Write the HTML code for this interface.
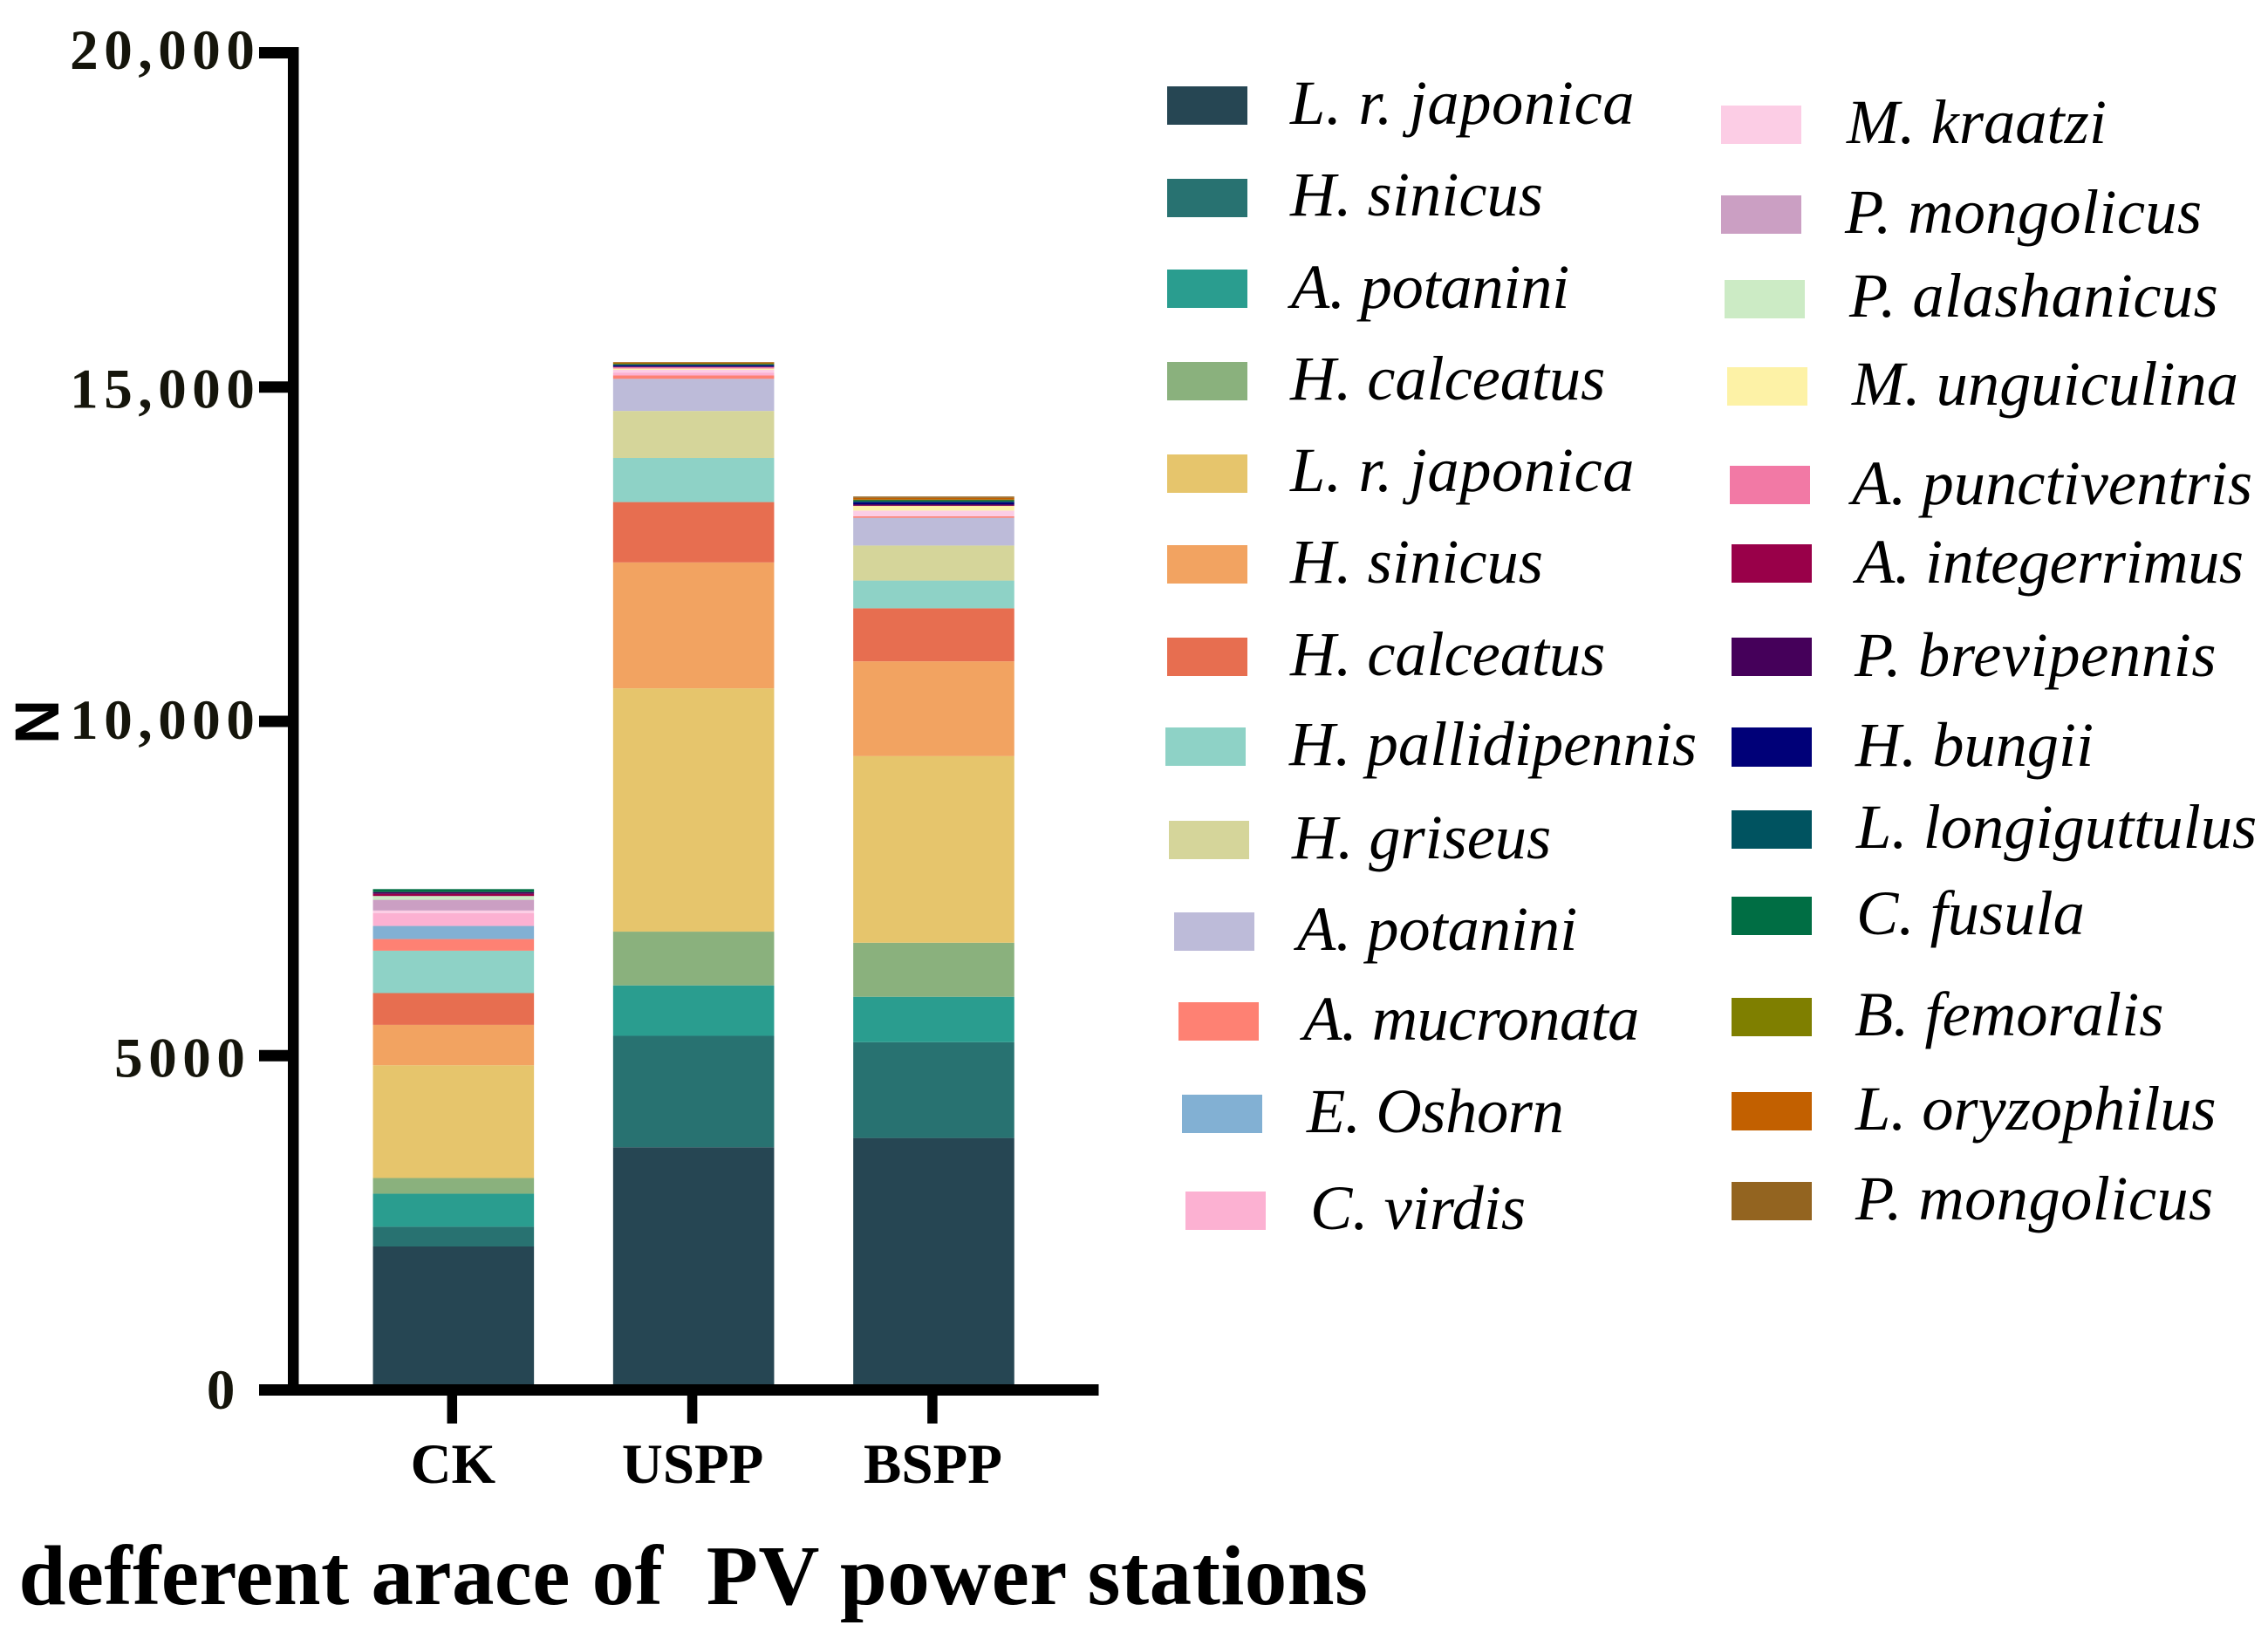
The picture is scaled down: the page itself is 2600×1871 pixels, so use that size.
<!DOCTYPE html>
<html lang="en">
<head>
<meta charset="utf-8">
<title>Stacked bar chart of species abundance by PV power station area</title>
<style>
html,body{margin:0;padding:0;background:#fff;}
svg{display:block;}
.lg{font-family:"Liberation Serif",serif;font-style:italic;font-size:72.5px;fill:#000;}
.tk{font-family:"Liberation Serif",serif;font-weight:bold;font-size:65px;fill:#15150b;letter-spacing:6.6px;}
.cat{font-family:"Liberation Serif",serif;font-weight:bold;font-size:65px;fill:#000;}
</style>
</head>
<body>
<svg id="chart" xmlns="http://www.w3.org/2000/svg" width="2600" height="1871" viewBox="0 0 2600 1871">
  <rect x="0" y="0" width="2600" height="1871" fill="#ffffff"/>
  <g id="bars"></g>
  <g id="axes"></g>
  <text transform="translate(67,827.5) rotate(-90)" text-anchor="middle" style="font-family:'Liberation Sans',sans-serif;font-weight:bold;font-size:71px;fill:#000;">N</text>
  <text x="21.5" y="1839" xml:space="preserve" style="font-family:'Liberation Serif',serif;font-weight:bold;font-size:97px;fill:#000;letter-spacing:.45px;white-space:pre;">defferent arace of  PV power stations</text>

  <g>
    <g><rect x="1338" y="99" width="92" height="44" fill="#264653"/><text class="lg" x="1479" y="142" letter-spacing="0.6">L. r. japonica</text></g>
    <g><rect x="1338" y="205" width="92" height="44" fill="#287271"/><text class="lg" x="1479" y="247">H. sinicus</text></g>
    <g><rect x="1338" y="309" width="92" height="44" fill="#2a9d8f"/><text class="lg" x="1480" y="353" letter-spacing="-0.3">A. potanini</text></g>
    <g><rect x="1338" y="415" width="92" height="44" fill="#8ab17d"/><text class="lg" x="1479" y="458" letter-spacing="-0.1">H. calceatus</text></g>
    <g><rect x="1338" y="521" width="92" height="44" fill="#e6c56c"/><text class="lg" x="1479" y="563" letter-spacing="0.6">L. r. japonica</text></g>
    <g><rect x="1338" y="625" width="92" height="44" fill="#f2a361"/><text class="lg" x="1479" y="668">H. sinicus</text></g>
    <g><rect x="1338" y="731" width="92" height="44" fill="#e76e50"/><text class="lg" x="1479" y="774" letter-spacing="-0.1">H. calceatus</text></g>
    <g><rect x="1336" y="834" width="92" height="44" fill="#8ed2c6"/><text class="lg" x="1478" y="877">H. pallidipennis</text></g>
    <g><rect x="1340" y="941" width="92" height="44" fill="#d5d59a"/><text class="lg" x="1481" y="984" letter-spacing="-0.1">H. griseus</text></g>
    <g><rect x="1346" y="1046" width="92" height="44" fill="#bdbbd9"/><text class="lg" x="1487" y="1089" letter-spacing="-0.1">A. potanini</text></g>
    <g><rect x="1351" y="1149" width="92" height="44" fill="#fe8173"/><text class="lg" x="1494" y="1192" letter-spacing="-0.6">A. mucronata</text></g>
    <g><rect x="1355" y="1255" width="92" height="44" fill="#82b0d3"/><text class="lg" x="1498" y="1298" letter-spacing="-0.4">E. Oshorn</text></g>
    <g><rect x="1359" y="1366" width="92" height="44" fill="#fcb1d2"/><text class="lg" x="1502" y="1409">C. virdis</text></g>

    <g><rect x="1973" y="121" width="92" height="44" fill="#fccde5"/><text class="lg" x="2117" y="164">M. kraatzi</text></g>
    <g><rect x="1973" y="224" width="92" height="44" fill="#cb9fc3"/><text class="lg" x="2115" y="267" letter-spacing="0.3">P. mongolicus</text></g>
    <g><rect x="1977" y="321" width="92" height="44" fill="#ccebc5"/><text class="lg" x="2120" y="363" letter-spacing="0.4">P. alashanicus</text></g>
    <g><rect x="1980" y="421" width="92" height="44" fill="#fdf2a6"/><text class="lg" x="2123" y="464">M. unguiculina</text></g>
    <g><rect x="1983" y="534" width="92" height="44" fill="#f279a5"/><text class="lg" x="2123" y="578">A. punctiventris</text></g>
    <g><rect x="1985" y="624" width="92" height="44" fill="#990049"/><text class="lg" x="2128" y="668" letter-spacing="-0.5">A. integerrimus</text></g>
    <g><rect x="1985" y="731" width="92" height="44" fill="#45005a"/><text class="lg" x="2126" y="775" letter-spacing="0.6">P. brevipennis</text></g>
    <g><rect x="1985" y="834" width="92" height="45" fill="#000078"/><text class="lg" x="2127" y="878" letter-spacing="-0.1">H. bungii</text></g>
    <g><rect x="1985" y="929" width="92" height="44" fill="#005360"/><text class="lg" x="2128" y="972">L. longiguttulus</text></g>
    <g><rect x="1985" y="1028" width="92" height="44" fill="#006e44"/><text class="lg" x="2128" y="1071">C. fusula</text></g>
    <g><rect x="1985" y="1144" width="92" height="44" fill="#7f7f00"/><text class="lg" x="2126" y="1187">B. femoralis</text></g>
    <g><rect x="1985" y="1252" width="92" height="44" fill="#c26000"/><text class="lg" x="2127" y="1295" letter-spacing="-0.1">L. oryzophilus</text></g>
    <g><rect x="1985" y="1355" width="92" height="44" fill="#936420"/><text class="lg" x="2127" y="1398" letter-spacing="0.4">P. mongolicus</text></g>
  </g>
</svg>
<script>
const categories = ['CK', 'USPP', 'BSPP'];
const seriesNames = ['L. r. japonica','H. sinicus','A. potanini','H. calceatus','L. r. japonica','H. sinicus','H. calceatus','H. pallidipennis','H. griseus','A. potanini','A. mucronata','E. Oshorn','C. virdis','M. kraatzi','P. mongolicus','P. alashanicus','M. unguiculina','A. punctiventris','A. integerrimus','P. brevipennis','H. bungii','L. longiguttulus','C. fusula','B. femoralis','L. oryzophilus','P. mongolicus'];
const ckValues = [2146,295,494,235,1687,604,475,634,0,0,174,196,192,39,160,57,0,0,33,26,0,0,44,0,0,0];
const usppValues = [3630,1667,754,804,3639,1883,903,660,703,480,50,0,44,43,0,0,17,22,0,10,16,17,0,13,13,5];
const bsppValues = [3769,1432,680,808,2791,1418,793,415,524,414,22,0,0,87,0,0,69,0,9,17,30,16,13,10,26,20];
const tickValues = [0, 5000, 10000, 15000, 20000];
const tickLabels = ['0', '5000', '10,000', '15,000', '20,000'];
const palette = ['#264653','#287271','#2a9d8f','#8ab17d','#e6c56c','#f2a361','#e76e50','#8ed2c6','#d5d59a','#bdbbd9','#fe8173','#82b0d3','#fcb1d2','#fccde5','#cb9fc3','#ccebc5','#fdf2a6','#f279a5','#990049','#45005a','#000078','#005360','#006e44','#7f7f00','#c26000','#936420'];
const categoryValues = [ckValues, usppValues, bsppValues];

const NS = 'http://www.w3.org/2000/svg';
function yScale(v) { return 1593.5 - v * 0.07665; }
function xCenter(i) { return 519.85 + i * 275.3; }
const barWidth = 184.6;

function makeRect(parent, x, y, w, h, fill) {
  const r = document.createElementNS(NS, 'rect');
  r.setAttribute('x', x);
  r.setAttribute('y', y);
  r.setAttribute('width', w);
  r.setAttribute('height', h);
  r.setAttribute('fill', fill);
  parent.appendChild(r);
  return r;
}

function drawBars() {
  const g = document.getElementById('bars');
  categories.forEach(function (cat, i) {
    let cum = 0;
    categoryValues[i].forEach(function (v, s) {
      if (v <= 0) return;
      const top = yScale(cum + v);
      const bottom = yScale(cum);
      const r = makeRect(g, xCenter(i) - barWidth / 2, top, barWidth, bottom - top, palette[s]);
      
      
      const t = document.createElementNS(NS, 'title');
      t.textContent = cat + ' ' + seriesNames[s] + ': ' + v;
      r.appendChild(t);
      cum += v;
    });
  });
}

function drawAxes() {
  const g = document.getElementById('axes');
  const yAxis = makeRect(g, 330, yScale(20000) - 6.5, 12.5, yScale(0) - yScale(20000) + 13, '#000');
  
  
  const xAxis = makeRect(g, 297, yScale(0) - 6.5, 962.5, 13, '#000');
  
  

  const baselineShift = { 0: 21.5, 5000: 24, 10000: 20, 15000: 23.5, 20000: 18.5 };
  const labelEnd = { 0: 276, 5000: 287.5, 10000: 298.5, 15000: 298.5, 20000: 298.5 };
  tickValues.forEach(function (v, i) {
    const tick = makeRect(g, 297, yScale(v) - 6.5, 34, 13, '#000');
    
    
    const label = document.createElementNS(NS, 'text');
    label.setAttribute('class', 'tk');
    label.setAttribute('x', labelEnd[v]);
    label.setAttribute('y', yScale(v) + baselineShift[v]);
    label.setAttribute('text-anchor', 'end');
    
    
    label.textContent = tickLabels[i];
    g.appendChild(label);
  });

  categories.forEach(function (cat, i) {
    const tick = makeRect(g, xCenter(i) - 7.3, 1600, 11.5, 32, '#000');
    
    
    const label = document.createElementNS(NS, 'text');
    label.setAttribute('class', 'cat');
    label.setAttribute('x', xCenter(i) - (i === 0 ? 0.5 : 1));
    label.setAttribute('y', 1700);
    label.setAttribute('text-anchor', 'middle');
    
    
    label.textContent = cat;
    g.appendChild(label);
  });
}

drawBars();
drawAxes();
</script>
</body>
</html>
